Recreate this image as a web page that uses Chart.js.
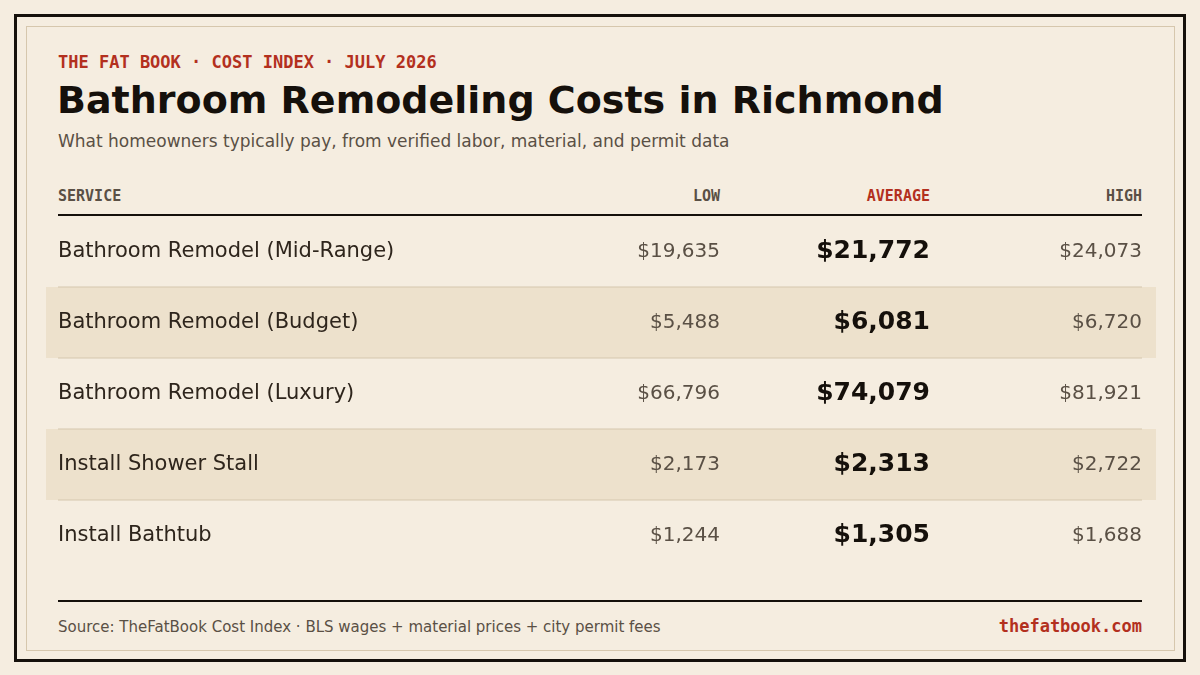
<!DOCTYPE html>
<html><head><meta charset="utf-8">
<script src="https://cdn.jsdelivr.net/npm/chart.js@4"></script>
<style>
  html, body { margin: 0; padding: 0; background: #f5ede0; }
  #wrap { position: relative; width: 1200px; height: 675px; overflow: hidden; font-family: "DejaVu Sans", sans-serif; }
  .frame { position: absolute; left: 14px; top: 14px; width: 1168px; height: 644px; border: 3px solid #15100b; box-sizing: content-box; width: 1166px; height: 642px; }
  .inner { position: absolute; left: 26px; top: 26px; width: 1147px; height: 623px; border: 1px solid #d6c7ad; }
  .t { position: absolute; white-space: nowrap; }
  .mono { font-family: "DejaVu Sans Mono", monospace; font-weight: bold; }
  #chartBox { position: absolute; left: 46px; top: 216px; width: 1110px; height: 355px; }
</style></head>
<body><div id="wrap">
  <div class="frame"></div><div class="inner"></div>
  <div class="t mono" style="left:58px;top:52px;font-size:17px;color:#b3301e;">THE FAT BOOK · COST INDEX · JULY 2026</div>
  <div class="t" style="left:57px;top:78px;font-size:38px;font-weight:bold;color:#15100b;">Bathroom Remodeling Costs in Richmond</div>
  <div class="t" style="left:58px;top:131px;font-size:17px;color:#5a5045;">What homeowners typically pay, from verified labor, material, and permit data</div>
  <div class="t mono" style="left:58px;top:187px;font-size:15px;color:#5a5045;">SERVICE</div>
  <div class="t mono" style="right:480px;top:187px;font-size:15px;color:#5a5045;">LOW</div>
  <div class="t mono" style="right:270px;top:187px;font-size:15px;color:#b3301e;">AVERAGE</div>
  <div class="t mono" style="right:58px;top:187px;font-size:15px;color:#5a5045;">HIGH</div>
  <div style="position:absolute;left:58px;top:214px;width:1084px;height:2px;background:#15100b;"></div>
  <div id="chartBox"><canvas id="c"></canvas></div>
  <div style="position:absolute;left:58px;top:600px;width:1084px;height:2px;background:#15100b;"></div>
  <div class="t" style="left:58px;top:618px;font-size:15px;color:#5a5045;">Source: TheFatBook Cost Index · BLS wages + material prices + city permit fees</div>
  <div class="t mono" style="right:58px;top:616px;font-size:17px;color:#b3301e;">thefatbook.com</div>
</div>
<script>
const services = ["Bathroom Remodel (Mid-Range)", "Bathroom Remodel (Budget)", "Bathroom Remodel (Luxury)", "Install Shower Stall", "Install Bathtub"];
const lowCost = [19635, 5488, 66796, 2173, 1244];
const avgCost = [21772, 6081, 74079, 2313, 1305];
const highCost = [24073, 6720, 81921, 2722, 1688];

const fmt = v => "$" + v.toLocaleString("en-US");

const tablePlugin = {
  id: "table",
  beforeDatasetsDraw(chart) {
    const { ctx, scales: { y } } = chart;
    const w = chart.width;
    services.forEach((s, i) => {
      const cy = y.getPixelForValue(i);
      if (i % 2 === 1) {
        ctx.fillStyle = "#ede1cc";
        ctx.fillRect(0, cy - 35.5, w, 71);
      }
      if (i > 0) {
        ctx.fillStyle = "#d6c7ad";
        ctx.fillRect(12, cy - 36, 1084, 1);
      }
    });
  },
  afterDraw(chart) {
    const { ctx, scales: { y } } = chart;
    ctx.save();
    ctx.textBaseline = "middle";
    services.forEach((s, i) => {
      const cy = y.getPixelForValue(i);
      ctx.textAlign = "left";
      ctx.font = "21px 'DejaVu Sans'";
      ctx.fillStyle = "#2e251c";
      ctx.fillText(s, 12, cy);
      ctx.textAlign = "right";
      ctx.font = "20px 'DejaVu Sans'";
      ctx.fillStyle = "#5a5045";
      ctx.fillText(fmt(lowCost[i]), 674, cy);
      ctx.fillText(fmt(highCost[i]), 1096, cy);
      ctx.font = "bold 25px 'DejaVu Sans'";
      ctx.fillStyle = "#15100b";
      ctx.fillText(fmt(avgCost[i]), 884, cy);
    });
    ctx.restore();
  }
};

new Chart(document.getElementById("c"), {
  type: "bar",
  data: { labels: services, datasets: [{ data: services.map(() => 0), backgroundColor: "transparent" }] },
  options: {
    indexAxis: "y",
    responsive: true,
    maintainAspectRatio: false,
    animation: false,
    layout: { padding: 0 },
    plugins: { legend: { display: false }, tooltip: { enabled: false } },
    scales: {
      x: { display: false, min: 0, max: 1 },
      y: { display: false }
    }
  },
  plugins: [tablePlugin]
});
</script>
</body></html>
